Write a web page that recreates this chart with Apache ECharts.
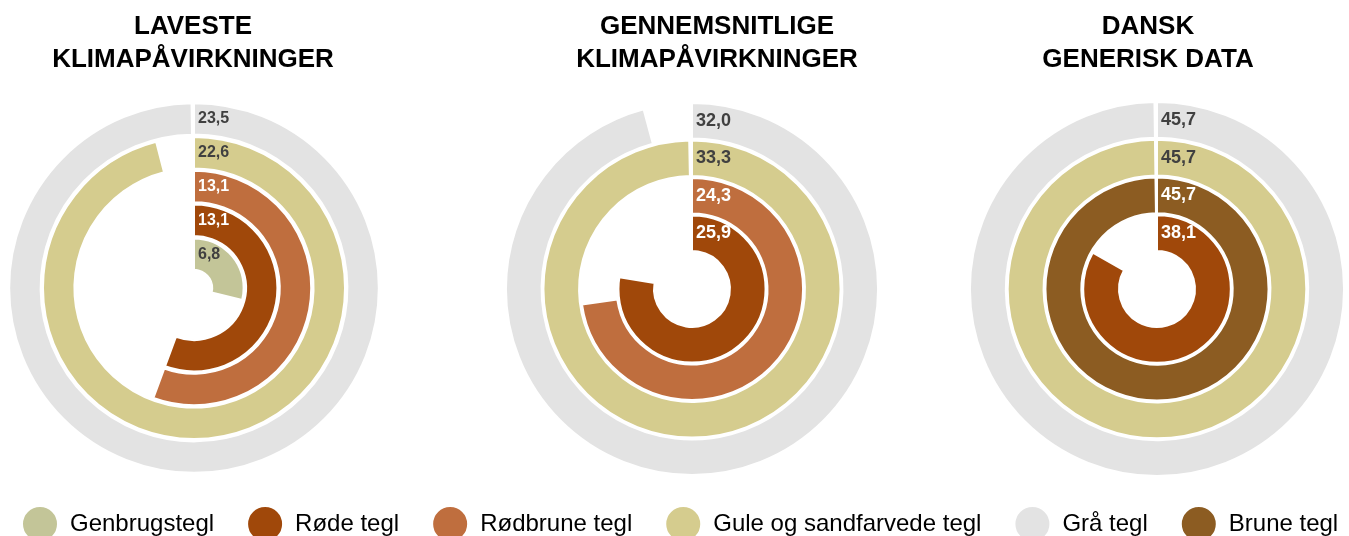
<!DOCTYPE html>
<html>
<head>
<meta charset="utf-8">
<script src="https://cdn.jsdelivr.net/npm/echarts@6/dist/echarts.min.js"></script>
<style>
  html, body { margin: 0; padding: 0; background: #fff; }
  #container { width: 1349px; height: 536px; }
</style>
</head>
<body>
<div id="container"></div>
<script>
// data
var titles = ['LAVESTE\nKLIMAPÅVIRKNINGER', 'GENNEMSNITLIGE\nKLIMAPÅVIRKNINGER', 'DANSK\nGENERISK DATA'];
var legendNames = ['Genbrugstegl', 'Røde tegl', 'Rødbrune tegl', 'Gule og sandfarvede tegl', 'Grå tegl', 'Brune tegl'];

// ringe udefra og ind
var laveRings = ['Grå tegl', 'Gule og sandfarvede tegl', 'Rødbrune tegl', 'Røde tegl', 'Genbrugstegl'];
var laveValues = [23.5, 22.6, 13.1, 13.1, 6.8];

var snitRings = ['Grå tegl', 'Gule og sandfarvede tegl', 'Rødbrune tegl', 'Røde tegl'];
var snitValues = [32.0, 33.3, 24.3, 25.9];

var danskRings = ['Grå tegl', 'Gule og sandfarvede tegl', 'Brune tegl', 'Røde tegl'];
var danskValues = [45.7, 45.7, 45.7, 38.1];

var angleMax = [23.55, 33.4, 45.8];

var colors = {
  'Genbrugstegl': '#c3c598',
  'Røde tegl': '#a0480a',
  'Rødbrune tegl': '#bf6e3e',
  'Gule og sandfarvede tegl': '#d5cc8e',
  'Grå tegl': '#e3e3e3',
  'Brune tegl': '#8c5c22'
};
var whiteLabel = { 'Røde tegl': true, 'Rødbrune tegl': true, 'Brune tegl': true };

var dom = document.getElementById('container');
var myChart = echarts.init(dom, null, { renderer: 'canvas' });

var charts = [
  { rings: laveRings, values: laveValues, center: [194, 288], radius: [17, 186], gap: '7%', font: 16, titleX: 188 },
  { rings: snitRings, values: snitValues, center: [692, 289], radius: [37, 187], gap: '5%', font: 18, titleX: 712 },
  { rings: danskRings, values: danskValues, center: [1157, 289], radius: [37, 188], gap: '5%', font: 18, titleX: 1143 }
];

var series = [];
charts.forEach(function (c, k) {
  c.rings.forEach(function (name, i) {
    series.push({
      name: name,
      type: 'bar',
      coordinateSystem: 'polar',
      polarIndex: k,
      barGap: '-100%',
      barCategoryGap: c.gap,
      data: c.rings.map(function (r, j) { return j === i ? c.values[i] : '-'; }),
      itemStyle: { color: colors[name], borderColor: '#fff', borderWidth: 2 },
      label: {
        show: true,
        position: 'insideStart',
        rotate: 0,
        distance: 4,
        fontFamily: 'Liberation Sans, Arial, sans-serif',
        fontWeight: 'bold',
        fontSize: c.font,
        color: whiteLabel[name] ? '#ffffff' : '#404040',
        formatter: function (p) { return p.value.toFixed(1).replace('.', ','); }
      },
      emphasis: { disabled: true },
      silent: true
    });
  });
});

var option = {
  animation: false,
  title: charts.map(function (c, k) {
    return {
      text: titles[k],
      left: c.titleX,
      top: 5,
      textAlign: 'center',
      textStyle: {
        fontFamily: 'Liberation Sans, Arial, sans-serif',
        fontWeight: 'bold',
        fontSize: 26,
        lineHeight: 33,
        color: '#000'
      }
    };
  }),
  legend: {
    data: legendNames,
    left: 16,
    top: 500,
    itemWidth: 38,
    itemHeight: 36,
    itemGap: 32,
    selectedMode: false,
    icon: 'path://M50,0 A50,50 0 1,1 50,100 A50,50 0 1,1 50,0 Z',
    textStyle: {
      fontFamily: 'Liberation Sans, Arial, sans-serif',
      fontSize: 24,
      color: '#000',
      padding: [0, 0, 0, 6]
    }
  },
  polar: charts.map(function (c) { return { center: c.center, radius: c.radius }; }),
  angleAxis: charts.map(function (c, k) {
    return { polarIndex: k, type: 'value', min: 0, max: angleMax[k], startAngle: 90, clockwise: true, show: false };
  }),
  radiusAxis: charts.map(function (c, k) {
    return { polarIndex: k, type: 'category', data: c.rings, inverse: true, show: false };
  }),
  series: series
};

myChart.setOption(option);
window.addEventListener('resize', myChart.resize);
</script>
</body>
</html>
